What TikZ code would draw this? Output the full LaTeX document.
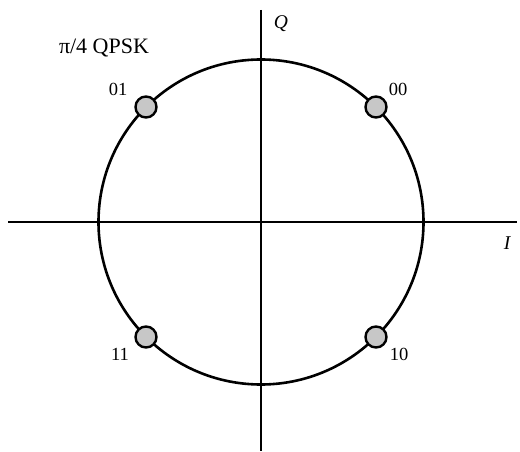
\documentclass[tikz,border=0pt]{standalone}
\usepackage{fontspec}
\setmainfont{Liberation Serif}
\usetikzlibrary{calc}
\begin{document}
\begin{tikzpicture}[x=1pt,y=-1pt,
  axis/.style={line width=2.6pt},
  dot/.style={circle,draw,line width=2.4pt,fill=black!22,minimum size=21pt,inner sep=0pt},
  lbl/.style={font=\fontsize{18.5}{22}\selectfont,inner sep=0pt}]
\useasboundingbox (0,0) rectangle (520,452);
\coordinate (o) at (261,222);
\coordinate (xl) at (8,222);
\coordinate (xr) at (517,222);
\coordinate (yt) at (261,10);
\coordinate (yb) at (261,451);
\draw[axis] (xl) -- (xr);
\draw[axis] (yt) -- (yb);
\draw[axis] (o) circle[radius=162.5];
\node[dot] (p00) at ($(o)+(115,-115)$) {};
\node[dot] (p01) at ($(o)+(-115,-115)$) {};
\node[dot] (p11) at ($(o)+(-115,115)$) {};
\node[dot] (p10) at ($(o)+(115,115)$) {};
\node[lbl] (l00) at (398,89) {00};
\node[lbl] (l01) at (118,89) {01};
\node[lbl] (l11) at (120,354) {11};
\node[lbl] (l10) at (399,354) {10};
\node[lbl] (q) at (281,24) {\fontsize{19.5}{22}\selectfont\itshape Q};
\node[lbl] (i) at (507,243) {\fontsize{19.5}{22}\selectfont\itshape I};
\node[lbl] (title) at (104,48) {\fontsize{22}{24}\selectfont π/4 QPSK};
\end{tikzpicture}
\end{document}
